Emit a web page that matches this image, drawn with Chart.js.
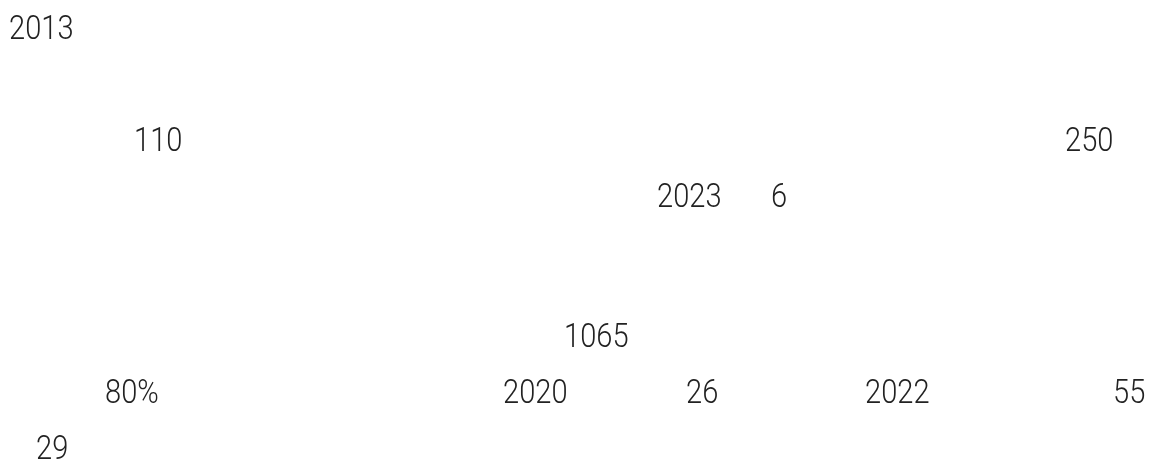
<!DOCTYPE html>
<html>
<head>
<meta charset="utf-8">
<script src="https://cdn.jsdelivr.net/npm/chart.js@4"></script>
<style>
  html, body { margin: 0; padding: 0; background: #fff; }
  #wrap { width: 1151px; height: 464px; }
</style>
</head>
<body>
<div id="wrap"><canvas id="chart" width="1151" height="464"></canvas></div>
<script>
// numbers left readable in the text block
const tokens = ['2013', '110', '250', '2023', '6', '1065', '80%', '2020', '26', '2022', '55', '29']
// horizontal offset of each number within its line (px from the left edge)
const offsetX = [9, 134, 1065, 657, 771, 564, 105, 503, 686, 865, 1113, 36]
// which text line the number sits on (second paragraph starts after a gap)
const lineIdx = [0, 2, 2, 3, 3, 5.5, 6.5, 6.5, 6.5, 6.5, 6.5, 7.5]

const points = tokens.map((t, i) => ({ x: offsetX[i], y: lineIdx[i] }))

// draws each number at its point, slightly taller than wide like the source face
const textLabels = {
  id: 'text-labels',
  afterDatasetsDraw(chart) {
    const ctx = chart.ctx
    const meta = chart.getDatasetMeta(0)
    ctx.save()
    ctx.fillStyle = '#222'
    ctx.font = '300 30px Roboto, "Noto Sans CJK SC", sans-serif'
    ctx.textAlign = 'left'
    ctx.textBaseline = 'alphabetic'
    meta.data.forEach((pt, i) => {
      ctx.save()
      ctx.translate(pt.x, pt.y)
      ctx.scale(0.97, 1.1)
      ctx.fillText(tokens[i], 0, 0)
      ctx.restore()
    })
    ctx.restore()
  }
}

new Chart(document.getElementById('chart'), {
  type: 'scatter',
  data: {
    datasets: [{
      data: points,
      pointRadius: 0,
      pointHoverRadius: 0
    }]
  },
  options: {
    responsive: false,
    animation: false,
    layout: { padding: 0 },
    plugins: { legend: { display: false }, tooltip: { enabled: false } },
    scales: {
      x: { type: 'linear', display: false, min: 0, max: 1151 },
      y: { type: 'linear', display: false, reverse: true, min: -39 / 56, max: -39 / 56 + 464 / 56 }
    }
  },
  plugins: [textLabels]
})
</script>
</body>
</html>
